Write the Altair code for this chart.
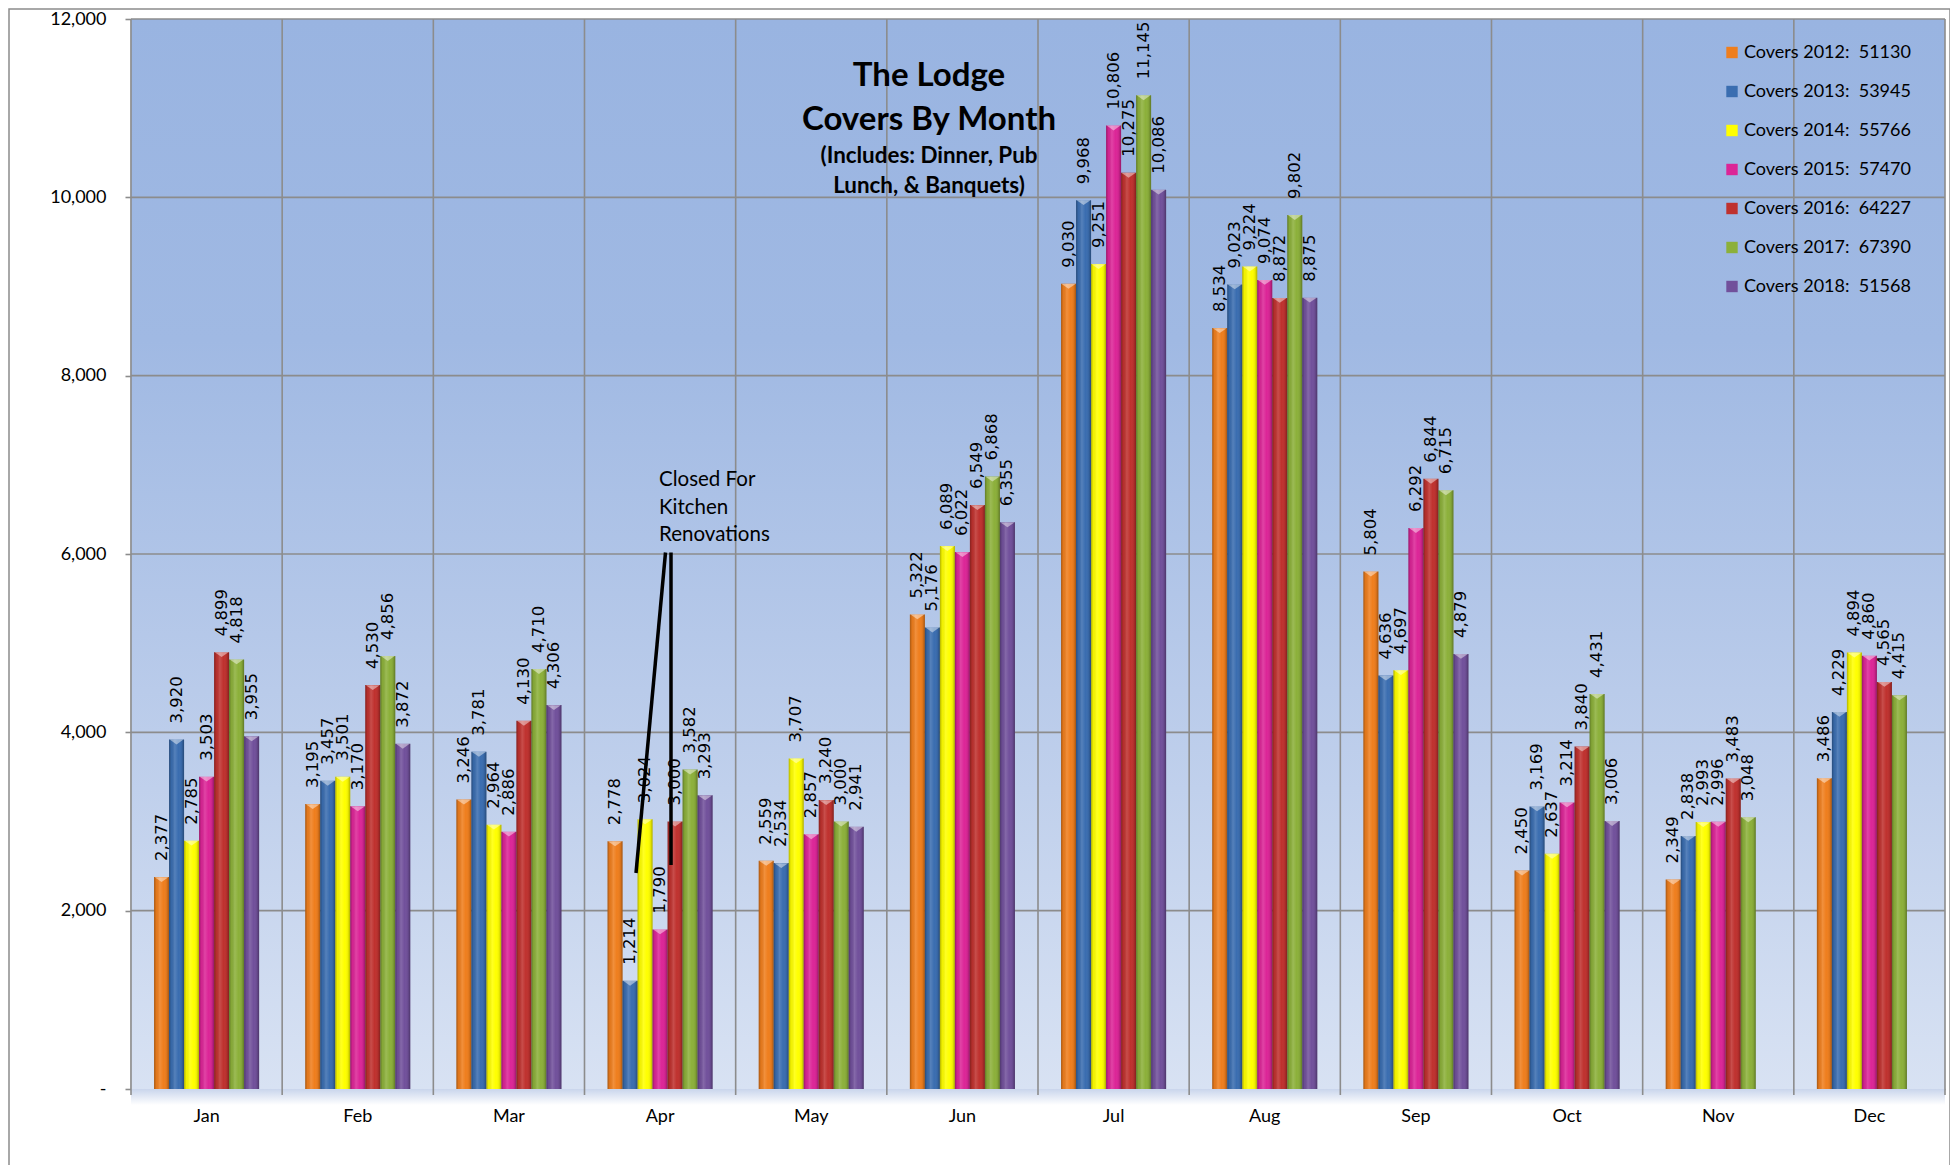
import altair as alt
import pandas as pd

# ---------------- data ----------------
months = ["Jan", "Feb", "Mar", "Apr", "May", "Jun", "Jul", "Aug", "Sep", "Oct", "Nov", "Dec"]
years = ["2012", "2013", "2014", "2015", "2016", "2017", "2018"]
covers_2012 = [2377, 3195, 3246, 2778, 2559, 5322, 9030, 8534, 5804, 2450, 2349, 3486]
covers_2013 = [3920, 3457, 3781, 1214, 2534, 5176, 9968, 9023, 4636, 3169, 2838, 4229]
covers_2014 = [2785, 3501, 2964, 3024, 3707, 6089, 9251, 9224, 4697, 2637, 2993, 4894]
covers_2015 = [3503, 3170, 2886, 1790, 2857, 6022, 10806, 9074, 6292, 3214, 2996, 4860]
covers_2016 = [4899, 4530, 4130, 3000, 3240, 6549, 10275, 8872, 6844, 3840, 3483, 4565]
covers_2017 = [4818, 4856, 4710, 3582, 3000, 6868, 11145, 9802, 6715, 4431, 3048, 4415]
covers_2018 = [3955, 3872, 4306, 3293, 2941, 6355, 10086, 8875, 4879, 3006, None, None]
legend_totals = [51130, 53945, 55766, 57470, 64227, 67390, 51568]
series_colors = ["#EF7E1D", "#3A6DB0", "#FFFF00", "#DC2597", "#BF312E", "#8CB03A", "#71509B"]
y_ticks = [0, 2000, 4000, 6000, 8000, 10000, 12000]

title_lines = ["The Lodge", "Covers By Month"]
subtitle_lines = ["(Includes: Dinner, Pub", "Lunch, & Banquets)"]
note_lines = ["Closed For", "Kitchen", "Renovations"]

all_series = [covers_2012, covers_2013, covers_2014, covers_2015,
              covers_2016, covers_2017, covers_2018]
series_names = [f"Covers {y}:\u00a0 {t}" for y, t in zip(years, legend_totals)]

rows = []
for name, vals in zip(series_names, all_series):
    for m, v in zip(months, vals):
        if v is not None:
            rows.append({"month": m, "series": name, "value": v})
df = pd.DataFrame(rows)

W, H = 1814, 1070
GRID = "#8C8C8C"

# ---------------- encodings ----------------
x_enc = alt.X(
    "month:N",
    scale=alt.Scale(domain=months, paddingInner=0.305, paddingOuter=0.1525),
    axis=alt.Axis(title=None, ticks=False, grid=False, domain=True,
                  domainColor=GRID, domainWidth=1.6, labelAngle=0,
                  labelFont="Lato", labelFontSize=18, labelColor="#000",
                  labelBaseline="alphabetic", labelPadding=32),
)
xoff_enc = alt.XOffset("series:N", scale=alt.Scale(domain=series_names, paddingInner=0, paddingOuter=0))
y_enc = alt.Y(
    "value:Q",
    scale=alt.Scale(domain=[0, 12000], nice=False, zero=True),
    axis=alt.Axis(title=None, values=y_ticks, grid=False, domainColor=GRID,
                  domainWidth=1.6, tickColor=GRID, tickSize=6, tickWidth=1.6,
                  labelFont="Lato", labelFontSize=18, labelColor="#000",
                  labelPadding=19,
                  labelExpr="datum.value == 0 ? '-\u00a0\u00a0' : format(datum.value, ',')"),
)
color_enc = alt.Color(
    "series:N",
    scale=alt.Scale(domain=series_names, range=series_colors),
    legend=alt.Legend(orient="none", legendX=1592, legendY=24.5, title=None,
                      symbolType="square", symbolSize=130, symbolStrokeWidth=0,
                      labelFont="Lato", labelFontSize=18, labelColor="#000",
                      rowPadding=21, labelOffset=3, padding=0, labelLimit=400),
)

one = pd.DataFrame({"a": [0]})

# ---------------- background ----------------
bg_grad = alt.LinearGradient(
    gradient="linear", x1=0, x2=0, y1=0, y2=1,
    stops=[alt.GradientStop(color="#99B4E1", offset=0),
           alt.GradientStop(color="#A0B9E3", offset=0.3),
           alt.GradientStop(color="#C0D0EC", offset=0.72),
           alt.GradientStop(color="#D8E2F3", offset=1)],
)
bg = alt.Chart(one).mark_rect(fill=bg_grad).encode(
    x=alt.value(0), x2=alt.value(W), y=alt.value(0), y2=alt.value(H))

floor_grad = alt.LinearGradient(
    gradient="linear", x1=0, x2=0, y1=0, y2=1,
    stops=[alt.GradientStop(color="#C9D5EC", offset=0),
           alt.GradientStop(color="#FFFFFF", offset=1)],
)
floor = alt.Chart(one).mark_rect(fill=floor_grad).encode(
    x=alt.value(0), x2=alt.value(W), y=alt.value(H), y2=alt.value(H + 16))

# ---------------- grid lines ----------------
vgrid = alt.Chart(pd.DataFrame({"b": list(range(len(months) + 1))})).mark_rule(
    color=GRID, strokeWidth=1.6).encode(
    x=alt.X("b:Q", scale=alt.Scale(domain=[0, len(months)], nice=False, zero=False), axis=None),
    y=alt.value(0), y2=alt.value(H + 6))

hgrid = alt.Chart(pd.DataFrame({"value": y_ticks[1:]})).mark_rule(
    color=GRID, strokeWidth=1.6).encode(y=y_enc)

# ---------------- bars ----------------
base = alt.Chart(df).encode(x=x_enc, xOffset=xoff_enc, y=y_enc)
bars = base.mark_bar().encode(color=color_enc)

shade = alt.LinearGradient(
    gradient="linear", x1=0, x2=1, y1=0, y2=0,
    stops=[alt.GradientStop(color="rgba(0,0,0,0.30)", offset=0),
           alt.GradientStop(color="rgba(0,0,0,0.05)", offset=0.15),
           alt.GradientStop(color="rgba(255,255,255,0.14)", offset=0.38),
           alt.GradientStop(color="rgba(255,255,255,0.0)", offset=0.62),
           alt.GradientStop(color="rgba(0,0,0,0.08)", offset=0.85),
           alt.GradientStop(color="rgba(0,0,0,0.32)", offset=1)],
)
overlay = base.mark_bar(fill=shade)

caps = base.mark_point(shape="M -1 -0.35 L 1 -0.35 L 0 0.35 Z", filled=True,
                       fill="white", opacity=0.45, size=190, strokeWidth=0, yOffset=2.5)

labels = base.mark_text(angle=270, align="left", baseline="middle", dx=16,
                        font="DejaVu Sans", fontSize=16.5, color="#000").encode(
    text=alt.Text("value:Q", format=","))

inner = alt.layer(hgrid, bars, overlay, caps, labels)

# ---------------- text annotations ----------------
title = alt.Chart(one).mark_text(font="Lato", fontWeight="bold", fontSize=33,
                                 align="center", baseline="alphabetic",
                                 lineHeight=44, color="#000").encode(
    x=alt.value(798), y=alt.value(67), text=alt.value(title_lines))
subtitle = alt.Chart(one).mark_text(font="Lato", fontWeight="bold", fontSize=22.4,
                                    align="center", baseline="alphabetic",
                                    lineHeight=30, color="#000").encode(
    x=alt.value(798), y=alt.value(144), text=alt.value(subtitle_lines))
note = alt.Chart(one).mark_text(font="Lato", fontSize=20.5, align="left",
                                baseline="alphabetic", lineHeight=27.5,
                                color="#000").encode(
    x=alt.value(528), y=alt.value(467), text=alt.value(note_lines))
line_a = alt.Chart(one).mark_rule(color="#000", strokeWidth=3.5).encode(
    x=alt.value(534.5), y=alt.value(533.5), x2=alt.value(505), y2=alt.value(854))
line_b = alt.Chart(one).mark_rule(color="#000", strokeWidth=3.5).encode(
    x=alt.value(540), y=alt.value(533.5), x2=alt.value(540), y2=alt.value(846))

frame = alt.Chart(one).mark_rect(fill="transparent", stroke=GRID, strokeWidth=1.5).encode(
    x=alt.value(-122), x2=alt.value(1819), y=alt.value(-10), y2=alt.value(1200))

chart = alt.layer(
    bg, floor, vgrid, inner, title, subtitle, note, line_a, line_b, frame
).resolve_scale(x="independent").properties(
    width=W, height=H,
    autosize=alt.AutoSizeParams(type="none"),
    padding={"left": 123, "top": 11, "right": 5, "bottom": 76},
).configure_view(stroke=None)

chart.save("out.html", embed_options={"renderer": "svg", "actions": False})
